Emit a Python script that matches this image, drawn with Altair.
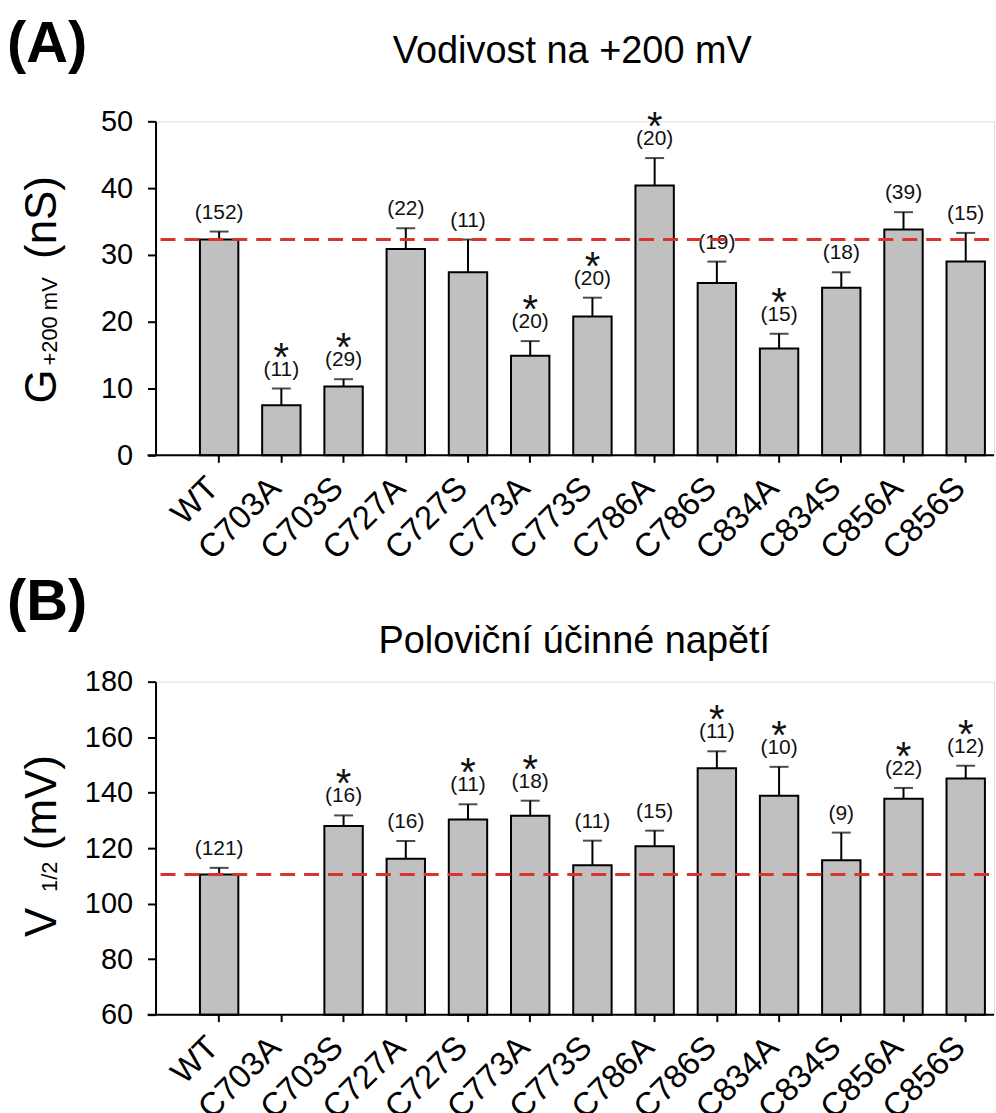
import altair as alt
import pandas as pd

categories = ["WT", "C703A", "C703S", "C727A", "C727S", "C773A", "C773S",
              "C786A", "C786S", "C834A", "C834S", "C856A", "C856S"]

# Panel A: conductance at +200 mV (nS)
g_mean = [32.3, 7.5, 10.3, 30.9, 27.4, 14.9, 20.8, 40.4, 25.8, 16.0, 25.1, 33.8, 29.0]
g_sem = [1.2, 2.5, 1.1, 3.1, 4.9, 2.2, 2.8, 4.1, 3.2, 2.2, 2.3, 2.6, 4.3]
g_n = [152, 11, 29, 22, 11, 20, 20, 20, 19, 15, 18, 39, 15]
g_sig = [False, True, True, False, False, True, True, True, False, True, False, False, False]

# Panel B: half-activation voltage (mV); C703A not measured
v_mean = [110.5, None, 128.0, 116.2, 130.3, 131.7, 113.8, 120.7, 148.8, 138.9, 115.6, 137.8, 145.1]
v_sem = [2.4, None, 3.8, 6.4, 5.5, 5.4, 8.9, 5.6, 6.1, 10.4, 10.0, 3.9, 4.6]
v_n = [121, None, 16, 16, 11, 18, 11, 15, 11, 10, 9, 22, 12]
v_sig = [False, False, True, False, True, True, False, False, True, True, False, True, True]

FONT = "Liberation Sans"
RED = "#d6352c"
GRAY = "#c0c0c0"
W = 841


def txt(s, x, y, size, weight="normal", angle=0, align="left"):
    return alt.Chart(pd.DataFrame({"k": [0]})).mark_text(
        text=s, fontSize=size, fontWeight=weight, angle=angle, align=align,
        baseline="alphabetic", font=FONT, color="black"
    ).encode(x=alt.value(x), y=alt.value(y))


def make_panel(mean, sem, n, sig, ymin, ymax, ystep, H, texts):
    df = pd.DataFrame({"cat": categories, "mean": mean, "sem": sem, "n": n, "sig": sig})
    df = df.dropna(subset=["mean"]).copy()
    df["upper"] = df["mean"] + df["sem"]
    df["nlab"] = ["(%d)" % int(v) for v in df["n"]]
    df["star"] = ["*" if s else "" for s in df["sig"]]
    df["sig"] = df["sig"].astype(bool)
    ref = mean[0]

    xs = alt.X("cat:N", sort=categories,
               scale=alt.Scale(domain=categories, paddingInner=0.383,
                               paddingOuter=0.43, align=0.83),
               axis=alt.Axis(title=None, labelAngle=-45, labelAlign="right",
                             labelBaseline="top", labelFontSize=33, labelFont=FONT,
                             labelColor="black", tickSize=7, tickWidth=2,
                             tickColor="black", domain=False, labelPadding=9,
                             labelOffset=-17, labelOverlap=False, labelBound=False))
    ysc = alt.Scale(domain=[ymin, ymax], nice=False, zero=False)
    yax = alt.Axis(values=list(range(ymin, ymax + 1, ystep)), title=None,
                   tickSize=8, tickWidth=2, tickColor="black", domainWidth=2,
                   domainColor="black", labelFontSize=29, labelFont=FONT,
                   labelColor="black", labelPadding=15, grid=False)

    base = alt.Chart(df)
    bars = base.mark_bar(fill=GRAY, stroke="black", strokeWidth=2).encode(
        x=xs, y=alt.Y("mean:Q", scale=ysc, axis=yax), y2=alt.datum(ymin))
    err = base.mark_rule(color="black", strokeWidth=2).encode(
        x=xs, y="mean:Q", y2="upper:Q")
    cap = base.mark_tick(color="black", size=19, thickness=2).encode(
        x=xs, y="upper:Q")
    nlab = base.mark_text(fontSize=21, dy=-19, baseline="middle", font=FONT,
                          color="#111111").encode(x=xs, y="upper:Q", text="nlab:N")
    star = base.transform_filter("datum.sig").mark_text(
        fontSize=40, dy=-30, baseline="middle", font=FONT, color="#111111"
    ).encode(x=xs, y="upper:Q", text="star:N")
    refl = alt.Chart(pd.DataFrame({"ref": [ref]})).mark_rule(
        color=RED, strokeWidth=3, strokeDash=[15, 9]).encode(
        y="ref:Q", x=alt.value(5), x2=alt.value(W))
    xline = alt.Chart(pd.DataFrame({"k": [0]})).mark_rule(
        color="black", strokeWidth=2).encode(
        x=alt.value(-8), x2=alt.value(W), y=alt.value(H))

    layers = [bars, err, cap, nlab, star, refl, xline] + texts
    return alt.layer(*layers).properties(width=W, height=H)


panelA = make_panel(
    g_mean, g_sem, g_n, g_sig, 0, 50, 10, 335,
    [
        txt("(A)", -149, -60, 58, weight="bold"),
        txt("Vodivost na +200 mV", 418, -59, 38, align="center"),
        txt("G", -100, 283, 44, angle=270),
        txt("+200 mV", -99, 245, 22, angle=270),
        txt("(nS)", -100, 138, 44, angle=270),
    ],
)

panelB = make_panel(
    v_mean, v_sem, v_n, v_sig, 60, 180, 20, 334,
    [
        txt("(B)", -149, -62, 58, weight="bold"),
        txt("Poloviční účinné napětí", 420, -29, 38, align="center"),
        txt("V", -100, 256, 44, angle=270),
        txt("1/2", -99, 211, 22, angle=270),
        txt("(mV)", -100, 169, 44, angle=270),
    ],
)

chart = alt.vconcat(panelA, panelB, spacing=6).properties(
    padding={"left": 6, "top": 13, "right": 0, "bottom": 0}
).configure_view(stroke=None).configure(font=FONT)

chart.save("out.html", embed_options={"renderer": "svg", "actions": False})
